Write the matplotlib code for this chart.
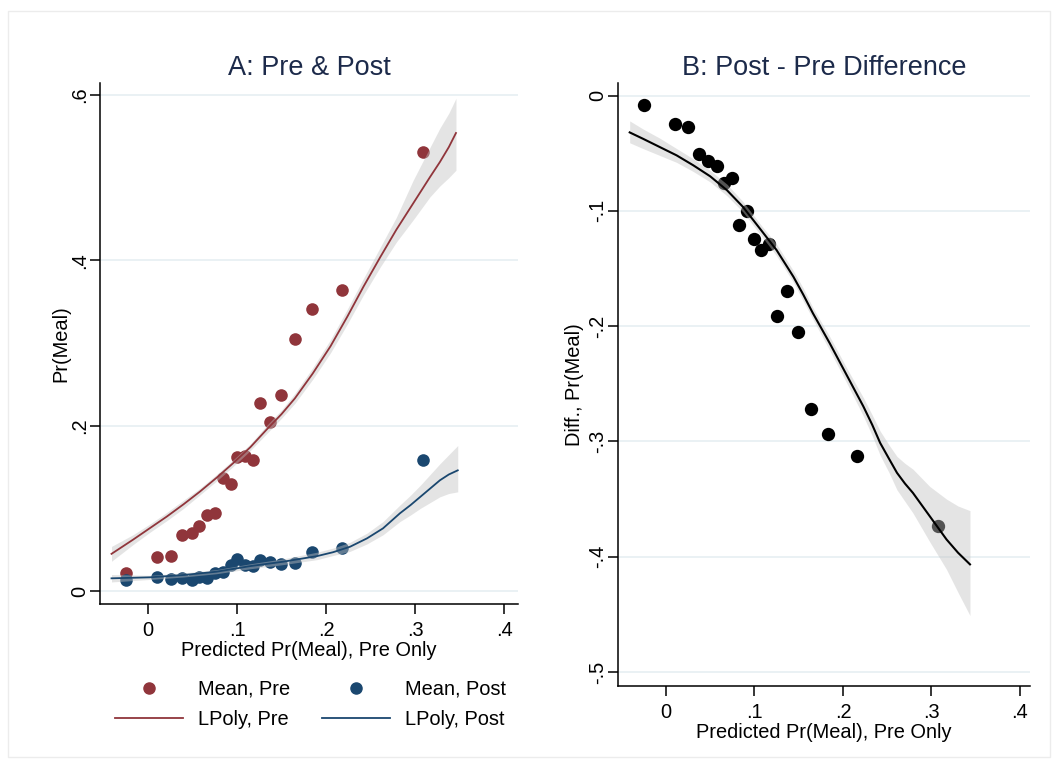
import numpy as np
import matplotlib
matplotlib.use('Agg')
import matplotlib.pyplot as plt
from matplotlib.lines import Line2D
from matplotlib.patches import Rectangle

plt.rcParams['font.family'] = ['Liberation Sans', 'DejaVu Sans']

# binned means
pred_x = [-0.0247, 0.0104, 0.0255, 0.0382, 0.0494, 0.0576, 0.0666, 0.0753, 0.0839, 0.0929,
          0.1003, 0.1087, 0.1176, 0.1262, 0.1371, 0.1498, 0.1652, 0.1846, 0.2176, 0.3087]
mean_pre = [0.0218, 0.0408, 0.0423, 0.0674, 0.0705, 0.0790, 0.0919, 0.0940, 0.1363, 0.1298,
            0.1617, 0.1633, 0.1585, 0.2278, 0.2044, 0.2367, 0.3048, 0.3408, 0.3641, 0.5314]
mean_post = [0.0133, 0.0166, 0.0145, 0.0157, 0.0133, 0.0166, 0.0157, 0.0221, 0.0233, 0.0311,
             0.0387, 0.0311, 0.0302, 0.0375, 0.0354, 0.0330, 0.0335, 0.0472, 0.0524, 0.1580]

diff_x = [-0.0249, 0.0105, 0.0252, 0.0376, 0.0478, 0.0573, 0.0655, 0.0749, 0.0828, 0.0912,
          0.0994, 0.1073, 0.1164, 0.1254, 0.1364, 0.1488, 0.1638, 0.1834, 0.2158, 0.3070]
diff_mean = [-0.0078, -0.0248, -0.0277, -0.0510, -0.0568, -0.0608, -0.0759, -0.0718, -0.1127, -0.1003,
             -0.1243, -0.1341, -0.1289, -0.1909, -0.1696, -0.2048, -0.2716, -0.2935, -0.3126, -0.3731]

# local polynomial fits with CI
lp_pre_x = [-0.041, -0.017, 0.002, 0.021, 0.040, 0.058, 0.077, 0.096, 0.115, 0.133, 0.150, 0.165, 0.185,
            0.205, 0.224, 0.242, 0.261, 0.279, 0.298, 0.317, 0.328, 0.338, 0.346]
lp_pre = [0.045, 0.062, 0.076, 0.090, 0.105, 0.120, 0.137, 0.155, 0.174, 0.195, 0.214, 0.233, 0.263,
          0.296, 0.332, 0.368, 0.404, 0.437, 0.469, 0.501, 0.519, 0.537, 0.554]
lp_pre_lo = [0.036, 0.056, 0.071, 0.085, 0.100, 0.116, 0.133, 0.151, 0.170, 0.190, 0.209, 0.227, 0.256,
             0.288, 0.323, 0.358, 0.392, 0.422, 0.449, 0.477, 0.490, 0.500, 0.509]
lp_pre_hi = [0.054, 0.068, 0.081, 0.095, 0.110, 0.124, 0.141, 0.159, 0.178, 0.200, 0.219, 0.239, 0.270,
             0.304, 0.341, 0.378, 0.416, 0.452, 0.497, 0.537, 0.560, 0.578, 0.596]

lp_post_x = [-0.041, 0.002, 0.040, 0.077, 0.115, 0.152, 0.190, 0.208, 0.227, 0.246, 0.264, 0.283,
             0.295, 0.306, 0.317, 0.328, 0.338, 0.348]
lp_post = [0.0154, 0.0166, 0.0194, 0.0234, 0.0302, 0.0355, 0.0423, 0.0470, 0.0536, 0.0637, 0.0758, 0.094,
           0.104, 0.114, 0.124, 0.134, 0.141, 0.146]
lp_post_lo = [0.011, 0.014, 0.017, 0.021, 0.027, 0.032, 0.038, 0.043, 0.048, 0.057, 0.068, 0.084,
              0.092, 0.100, 0.107, 0.114, 0.118, 0.120]
lp_post_hi = [0.020, 0.019, 0.022, 0.026, 0.033, 0.039, 0.047, 0.052, 0.059, 0.070, 0.084, 0.104,
              0.116, 0.128, 0.141, 0.154, 0.165, 0.176]

lp_diff_x = [-0.041, -0.026, -0.007, 0.012, 0.031, 0.050, 0.069, 0.087, 0.106, 0.125, 0.144, 0.155, 0.166,
             0.185, 0.204, 0.223, 0.233, 0.242, 0.252, 0.261, 0.270, 0.279, 0.298, 0.317, 0.330, 0.3435]
lp_diff = [-0.032, -0.0375, -0.0447, -0.0519, -0.0606, -0.0701, -0.0822, -0.0966, -0.1153, -0.1341, -0.1572,
           -0.1725, -0.1888, -0.2148, -0.2422, -0.2696, -0.2855, -0.3013, -0.3150, -0.3272, -0.3365, -0.3446,
           -0.3648, -0.3850, -0.3965, -0.4066]
lp_diff_lo = [-0.041, -0.046, -0.052, -0.058, -0.066, -0.075, -0.087, -0.101, -0.120, -0.139, -0.162,
              -0.178, -0.194, -0.221, -0.249, -0.278, -0.295, -0.312, -0.327, -0.342, -0.352, -0.362,
              -0.387, -0.411, -0.431, -0.451]
lp_diff_hi = [-0.022, -0.029, -0.037, -0.046, -0.055, -0.065, -0.077, -0.092, -0.111, -0.129, -0.152,
              -0.167, -0.184, -0.209, -0.236, -0.262, -0.277, -0.291, -0.303, -0.313, -0.319, -0.324,
              -0.339, -0.350, -0.356, -0.360]

x_ticks = [0, 0.1, 0.2, 0.3, 0.4]
x_labels = ['0', '.1', '.2', '.3', '.4']
a_ticks = [0, 0.2, 0.4, 0.6]
a_labels = ['0', '.2', '.4', '.6']
b_ticks = [0, -0.1, -0.2, -0.3, -0.4, -0.5]
b_labels = ['0', '-.1', '-.2', '-.3', '-.4', '-.5']

maroon = '#90353b'
navy = '#1a476f'
title_col = '#1c2a4a'
band_col = '#c2c2c2'
grid_col = '#e6eff2'
fs = 14.4

fig = plt.figure(figsize=(10.55, 7.62), dpi=100)
fig.patches.append(Rectangle((8 / 1055, 1 - 757 / 762), 1042 / 1055, 746 / 762,
                             transform=fig.transFigure, fill=False, ec='#ececec', lw=1))


def style(ax, yt, yl, ylab, ylpad):
    for s in ['top', 'right']:
        ax.spines[s].set_visible(False)
    for s in ['left', 'bottom']:
        ax.spines[s].set_linewidth(1.1)
    ax.set_xticks(x_ticks)
    ax.set_xticklabels(x_labels)
    ax.set_yticks(yt)
    ax.set_yticklabels(yl, rotation=90, va='center')
    ax.tick_params(direction='out', length=7, width=1.1, labelsize=fs, pad=5)
    ax.tick_params(axis='y', pad=1)
    ax.yaxis.grid(True, color=grid_col, lw=1.2)
    ax.set_axisbelow(True)
    ax.set_xlabel('Predicted Pr(Meal), Pre Only', fontsize=fs, labelpad=1)
    ax.set_ylabel(ylab, fontsize=fs, labelpad=ylpad)


# Panel A
ax1 = fig.add_axes([0.0948, 0.2073, 0.3962, 0.6838])
ax1.scatter(pred_x, mean_pre, s=82, color=maroon, lw=0, zorder=2)
ax1.scatter(pred_x, mean_post, s=82, color=navy, lw=0, zorder=2)
ax1.fill_between(lp_pre_x, lp_pre_lo, lp_pre_hi, color=band_col, alpha=0.43, lw=0, zorder=3)
ax1.fill_between(lp_post_x, lp_post_lo, lp_post_hi, color=band_col, alpha=0.43, lw=0, zorder=3)
ax1.plot(lp_pre_x, lp_pre, color=maroon, lw=1.3, zorder=4)
ax1.plot(lp_post_x, lp_post, color=navy, lw=1.3, zorder=4)
ax1.set_xlim(-0.0539, 0.4157)
ax1.set_ylim(-0.0157, 0.6145)
style(ax1, a_ticks, a_labels, 'Pr(Meal)', 0)
ax1.set_title('A: Pre & Post', fontsize=19.5, color=title_col, pad=6)

handles = [Line2D([], [], ls='none', marker='o', ms=8, color=maroon),
           Line2D([], [], color=maroon, lw=1.3),
           Line2D([], [], ls='none', marker='o', ms=8, color=navy),
           Line2D([], [], color=navy, lw=1.3)]
labels = ['Mean, Pre', 'LPoly, Pre', 'Mean, Post', 'LPoly, Post']
fig.legend(handles, labels, loc='center', bbox_to_anchor=(0.294, 0.0761), ncol=2, frameon=False,
           fontsize=fs, handlelength=3.4, handletextpad=0.75, columnspacing=1.6, labelspacing=0.55)

# Panel B
ax2 = fig.add_axes([0.5858, 0.0997, 0.3905, 0.7913])
ax2.scatter(diff_x, diff_mean, s=92, color='black', lw=0, zorder=2)
ax2.fill_between(lp_diff_x, lp_diff_lo, lp_diff_hi, color=band_col, alpha=0.43, lw=0, zorder=3)
ax2.plot(lp_diff_x, lp_diff, color='black', lw=1.5, zorder=4)
ax2.set_xlim(-0.0542, 0.4113)
ax2.set_ylim(-0.5121, 0.0108)
style(ax2, b_ticks, b_labels, 'Diff., Pr(Meal)', 3)
ax2.set_title('B: Post - Pre Difference', fontsize=19.5, color=title_col, pad=6)

fig.savefig('out.png', dpi=100)
